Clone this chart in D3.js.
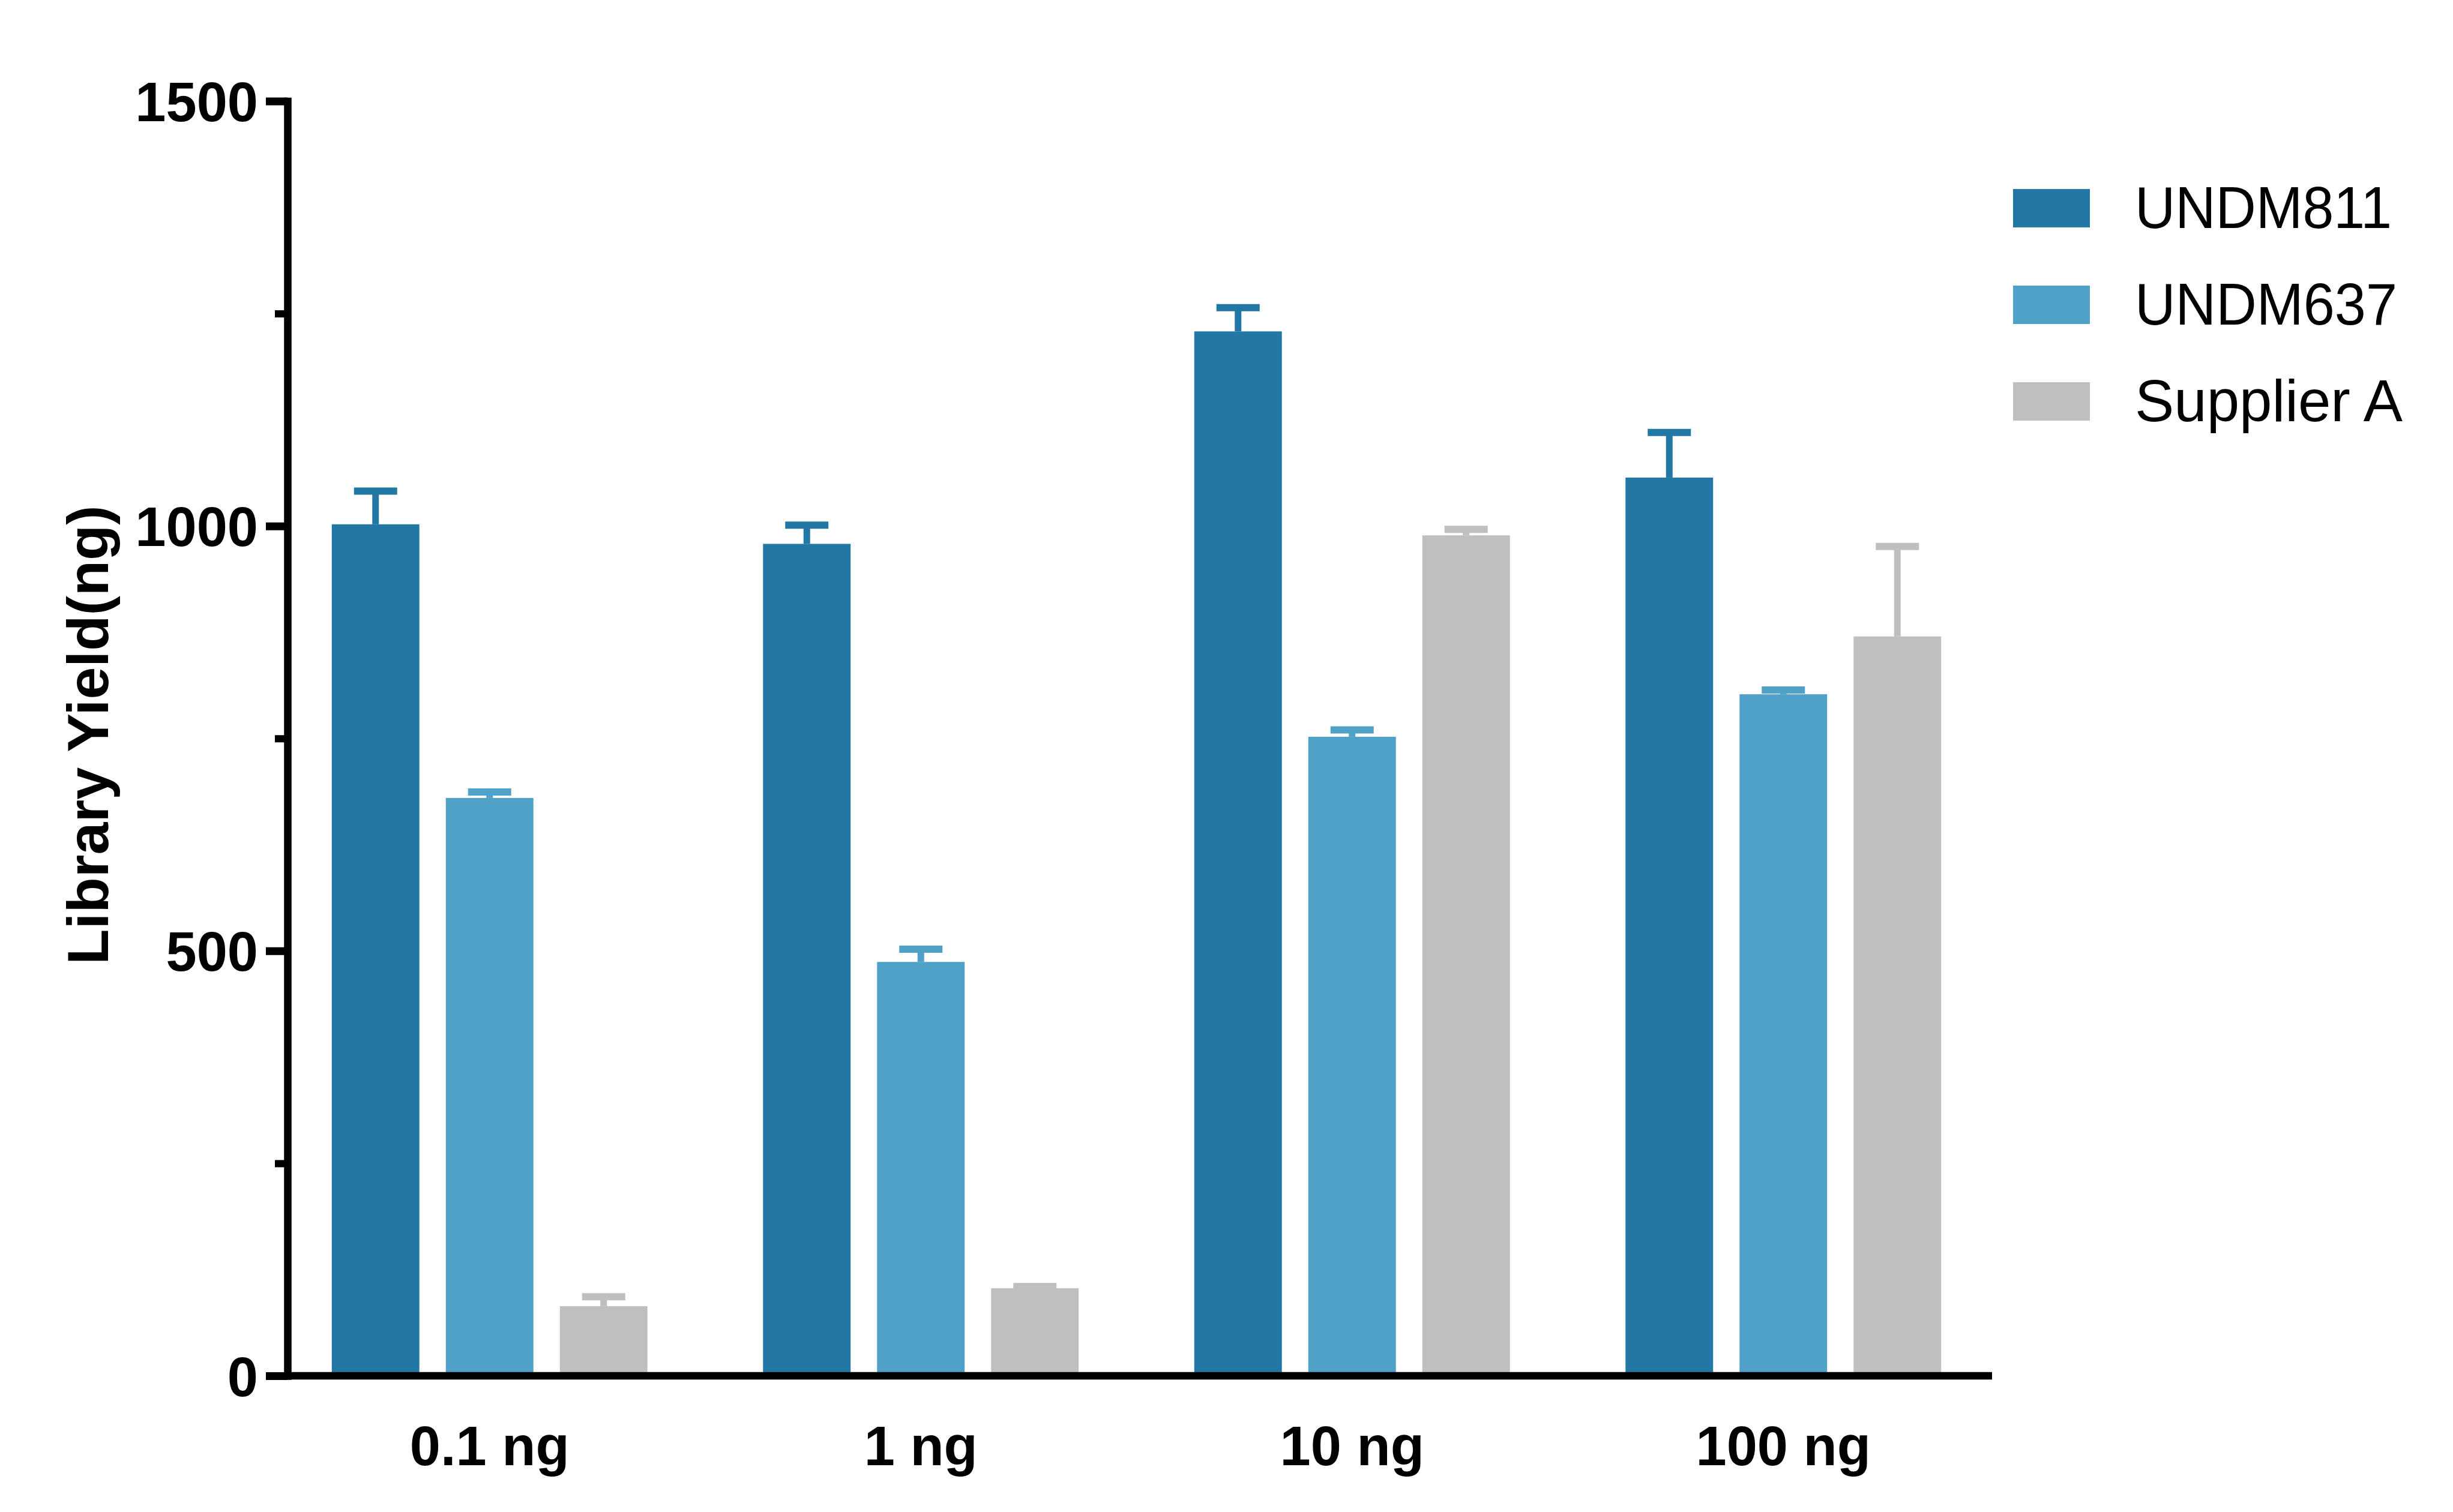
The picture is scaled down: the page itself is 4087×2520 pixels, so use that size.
<!DOCTYPE html>
<html>
<head>
<meta charset="utf-8">
<script src="https://cdn.jsdelivr.net/npm/d3@7"></script>
<style>
  html, body { margin: 0; padding: 0; background: #fff; }
  svg { display: block; }
</style>
</head>
<body>
<svg id="chart" width="4087" height="2520"></svg>
<script>
// ---- data ----
const groups = ["0.1 ng", "1 ng", "10 ng", "100 ng"];
const seriesNames = ["UNDM811", "UNDM637", "Supplier A"];
const undm811 = [1002, 979, 1229, 1057];
const undm811Err = [39, 22, 28, 53];
const undm637 = [680, 487, 752, 802];
const undm637Err = [7, 15, 8, 5];
const supplierA = [82, 103, 989, 870];
const supplierAErr = [11, 2, 7, 106];
const yTicks = [0, 500, 1000, 1500];
const yTickLabels = ["0", "500", "1000", "1500"];
const yMinorTicks = [250, 750, 1250];
const yTitle = "Library Yield(ng)";

const colors = ["#2377a4", "#4fa1c7", "#bfbfbf"];
const legendLengths = [428, 437, 446];

const seriesValues = [undm811, undm637, supplierA];
const seriesErrors = [undm811Err, undm637Err, supplierAErr];

const svg = d3.select("#chart");
const FONT = "'Liberation Sans', Arial, Helvetica, sans-serif";

const axisX0 = 479, axisX1 = 3319;

const y = d3.scaleLinear().domain([0, 1500]).range([2293, 168.5]);
const x0 = d3.scaleBand().domain(groups).range([456.5, 3330.5]);
const x1 = d3.scaleBand().domain(seriesNames).range([-285, 285])
  .paddingInner(0.232).paddingOuter(0.116);

const data = [];
groups.forEach((g, gi) => {
  seriesNames.forEach((s, si) => {
    data.push({ g, s, si, v: seriesValues[si][gi], e: seriesErrors[si][gi] });
  });
});

const cx = d => x0(d.g) + x0.bandwidth() / 2 + x1(d.s) + x1.bandwidth() / 2;

// bars
svg.append("g").selectAll("rect").data(data).join("rect")
  .attr("x", d => cx(d) - x1.bandwidth() / 2)
  .attr("width", x1.bandwidth())
  .attr("y", d => y(d.v))
  .attr("height", d => y(0) - y(d.v))
  .attr("fill", d => colors[d.si]);

// error bars (upper)
const eb = svg.append("g");
eb.selectAll("line.stem").data(data).join("line")
  .attr("class", "stem")
  .attr("x1", cx).attr("x2", cx)
  .attr("y1", d => y(d.v)).attr("y2", d => y(d.v + d.e))
  .attr("stroke", d => colors[d.si]).attr("stroke-width", 11);
eb.selectAll("line.cap").data(data).join("line")
  .attr("class", "cap")
  .attr("x1", d => cx(d) - 36).attr("x2", d => cx(d) + 36)
  .attr("y1", d => y(d.v + d.e)).attr("y2", d => y(d.v + d.e))
  .attr("stroke", d => colors[d.si]).attr("stroke-width", 12);

// y axis
const yAxis = svg.append("g")
  .attr("transform", `translate(${axisX0},0)`)
  .call(d3.axisLeft(y).tickValues(yTicks).tickSize(36).tickSizeOuter(0).tickPadding(13)
    .tickFormat((d, i) => yTickLabels[i]));
yAxis.select(".domain").attr("stroke", "#000").attr("stroke-width", 12.5).attr("stroke-linecap", "square");
yAxis.selectAll(".tick line").attr("stroke", "#000").attr("stroke-width", 13);
yAxis.selectAll(".tick text")
  .attr("font-family", FONT).attr("font-weight", "bold").attr("font-size", 92)
  .attr("fill", "#000").attr("dy", "0.36em");

const yMinor = svg.append("g")
  .attr("transform", `translate(${axisX0},0)`)
  .call(d3.axisLeft(y).tickValues(yMinorTicks).tickSize(21).tickSizeOuter(0).tickFormat(""));
yMinor.select(".domain").remove();
yMinor.selectAll(".tick line").attr("stroke", "#000").attr("stroke-width", 12);

// x axis
svg.append("line")
  .attr("x1", axisX0).attr("x2", axisX1)
  .attr("y1", y(0)).attr("y2", y(0))
  .attr("stroke", "#000").attr("stroke-width", 12.5);

const xAxis = svg.append("g")
  .attr("transform", `translate(0,${y(0)})`)
  .call(d3.axisBottom(x0).tickSize(0).tickPadding(0));
xAxis.select(".domain").remove();
xAxis.selectAll(".tick text")
  .attr("font-family", FONT).attr("font-weight", "bold").attr("font-size", 92)
  .attr("fill", "#000").attr("y", 149).attr("dy", 0);

// y title
svg.append("text")
  .attr("transform", "translate(180,1225) rotate(-90)")
  .attr("text-anchor", "middle")
  .attr("font-family", FONT).attr("font-weight", "bold").attr("font-size", 97)
  .attr("fill", "#000")
  .text(yTitle);

// legend
const legend = svg.append("g");
seriesNames.forEach((s, i) => {
  const top = 315 + i * 161;
  legend.append("rect")
    .attr("x", 3354).attr("y", top).attr("width", 128).attr("height", 64)
    .attr("fill", colors[i]);
  legend.append("text")
    .attr("x", 3557).attr("y", top + 65)
    .attr("font-family", FONT).attr("font-size", 98)
    .attr("fill", "#000")
    .attr("textLength", legendLengths[i]).attr("lengthAdjust", "spacingAndGlyphs")
    .text(s);
});
</script>
</body>
</html>
